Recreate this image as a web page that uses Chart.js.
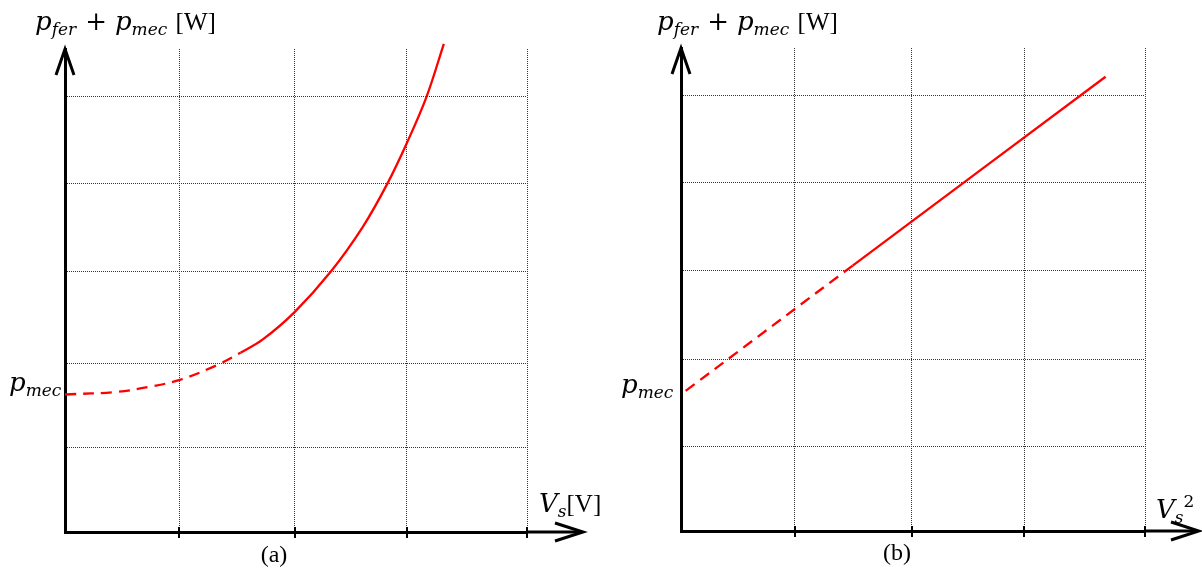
<!DOCTYPE html>
<html>
<head>
<meta charset="utf-8">
<script src="https://cdn.jsdelivr.net/npm/chart.js@4/dist/chart.umd.min.js"></script>
<style>
    html, body { margin: 0; padding: 0; background: #fff; }
    #wrap { position: relative; width: 1202px; height: 569px; overflow: hidden; }
    canvas { position: absolute; top: 0; }
    .lbl { position: absolute; white-space: nowrap; font: italic 26px/26px "DejaVu Serif", serif; color: #000; }
    .lbl .s { font-size: 17px; vertical-align: -5px; }
    .lbl .up { font: 17px "DejaVu Serif", serif; vertical-align: 11px; }
    .lbl .rm { font-style: normal; font-family: "Liberation Serif", serif; font-size: 25px; }
    .lbl .op { font-style: normal; margin: 0 8px 0 9px; }
    .cap { position: absolute; font: 24px/24px "Liberation Serif", serif; transform: translateX(-50%); }
</style>
</head>
<body>
<div id="wrap">
    <canvas id="chartA" width="601" height="569" style="left:0"></canvas>
    <canvas id="chartB" width="601" height="569" style="left:601px"></canvas>

    <div class="lbl" style="left:35px;top:8px"><span>p</span><span class="s">fer</span><span class="op">+</span><span>p</span><span class="s">mec</span> <span class="rm">[W]</span></div>
    <div class="lbl" style="left:9px;top:369px"><span>p</span><span class="s">mec</span></div>
    <div class="lbl" style="left:539px;top:490px"><span>V</span><span class="s">s</span><span class="rm">[V]</span></div>
    <div class="cap" style="left:274px;top:542px">(a)</div>

    <div class="lbl" style="left:657px;top:8px"><span>p</span><span class="s">fer</span><span class="op">+</span><span>p</span><span class="s">mec</span> <span class="rm">[W]</span></div>
    <div class="lbl" style="left:621px;top:371px"><span>p</span><span class="s">mec</span></div>
    <div class="lbl" style="left:1156px;top:491px"><span>V</span><span class="s">s</span><span class="up">2</span></div>
    <div class="cap" style="left:897px;top:540px">(b)</div>
</div>
<script>
// panel (a): losses against V_s (grid units)
const xGridA = [0.99, 1.99, 2.96, 4];
const yGridA = [0.97, 1.94, 2.99, 4, 5];
const xDashA = [0, 0.45, 0.74, 1.0, 1.32, 1.52];
const yDashA = [1.58, 1.61, 1.67, 1.75, 1.92, 2.06];
const xSolidA = [1.52, 1.71, 1.99, 2.30, 2.58, 2.79, 2.96, 3.13, 3.28];
const ySolidA = [2.06, 2.21, 2.53, 2.99, 3.51, 4.00, 4.47, 5.00, 5.61];

// panel (b): losses against V_s^2
const xGridB = [0.98, 1.99, 2.96, 4];
const yGridB = [0.97, 1.97, 2.99, 4, 5];
const xDashB = [0.04, 1.48];
const yDashB = [1.61, 3.05];
const xSolidB = [1.48, 3.66];
const ySolidB = [3.05, 5.22];

const pts = (xs, ys) => xs.map((x, i) => ({ x: x, y: ys[i] }));

// axis arrows + tick marks crossing the x axis
const axisArrows = {
    id: 'axisArrows',
    afterDraw(chart) {
        const { ctx, chartArea: { left, right, top, bottom }, scales: { x } } = chart;
        const opts = chart.options.plugins.axisArrows;
        const tipX = right + opts.overshoot;
        ctx.save();
        ctx.strokeStyle = '#000';
        ctx.lineWidth = 3;
        ctx.lineJoin = 'miter';

        ctx.beginPath();
        ctx.moveTo(right, bottom);
        ctx.lineTo(tipX - 2, bottom);
        ctx.stroke();

        ctx.beginPath();
        ctx.moveTo(tipX - 28, bottom - 9);
        ctx.lineTo(tipX, bottom);
        ctx.lineTo(tipX - 28, bottom + 9);
        ctx.stroke();

        ctx.beginPath();
        ctx.moveTo(left - 9, top + 26);
        ctx.lineTo(left, top);
        ctx.lineTo(left + 9, top + 26);
        ctx.stroke();

        ctx.lineWidth = 2;
        opts.ticks.forEach(v => {
            const px = Math.round(x.getPixelForValue(v));
            ctx.beginPath();
            ctx.moveTo(px, bottom - 5);
            ctx.lineTo(px, bottom + 6);
            ctx.stroke();
        });
        ctx.restore();
    }
};

function makeChart(id, cfg) {
    const redLine = (data, dash) => ({
        data: data,
        showLine: true,
        borderColor: '#ff0000',
        borderWidth: 2.3,
        borderDash: dash,
        pointRadius: 0,
        tension: 0.35,
        clip: false
    });
    return new Chart(document.getElementById(id), {
        type: 'scatter',
        data: {
            datasets: [
                redLine(cfg.dash, [11, 7]),
                redLine(cfg.solid, [])
            ]
        },
        options: {
            responsive: false,
            animation: false,
            events: [],
            layout: { padding: cfg.padding },
            plugins: {
                legend: { display: false },
                tooltip: { enabled: false },
                axisArrows: { overshoot: cfg.overshoot, ticks: cfg.xGrid }
            },
            scales: {
                x: {
                    type: 'linear',
                    min: 0,
                    max: 4,
                    afterBuildTicks: s => { s.ticks = cfg.xGrid.map(v => ({ value: v })); },
                    afterFit: s => { s.height = 0; },
                    ticks: { display: false },
                    grid: { drawTicks: false, color: '#333', lineWidth: 1 },
                    border: { display: true, color: '#000', width: 3, dash: [1, 1] }
                },
                y: {
                    type: 'linear',
                    min: 0,
                    max: 5.55,
                    afterBuildTicks: s => { s.ticks = cfg.yGrid.map(v => ({ value: v })); },
                    afterFit: s => { s.width = 0; },
                    ticks: { display: false },
                    grid: { drawTicks: false, color: '#333', lineWidth: 1 },
                    border: { display: true, color: '#000', width: 3, dash: [1, 1] }
                }
            }
        },
        plugins: [axisArrows]
    });
}

makeChart('chartA', {
    dash: pts(xDashA, yDashA),
    solid: pts(xSolidA, ySolidA),
    xGrid: xGridA,
    yGrid: yGridA,
    padding: { left: 65, top: 49, right: 74, bottom: 37 },
    overshoot: 56
});

makeChart('chartB', {
    dash: pts(xDashB, yDashB),
    solid: pts(xSolidB, ySolidB),
    xGrid: xGridB,
    yGrid: yGridB,
    padding: { left: 80, top: 48, right: 57, bottom: 38 },
    overshoot: 54
});
</script>
</body>
</html>
